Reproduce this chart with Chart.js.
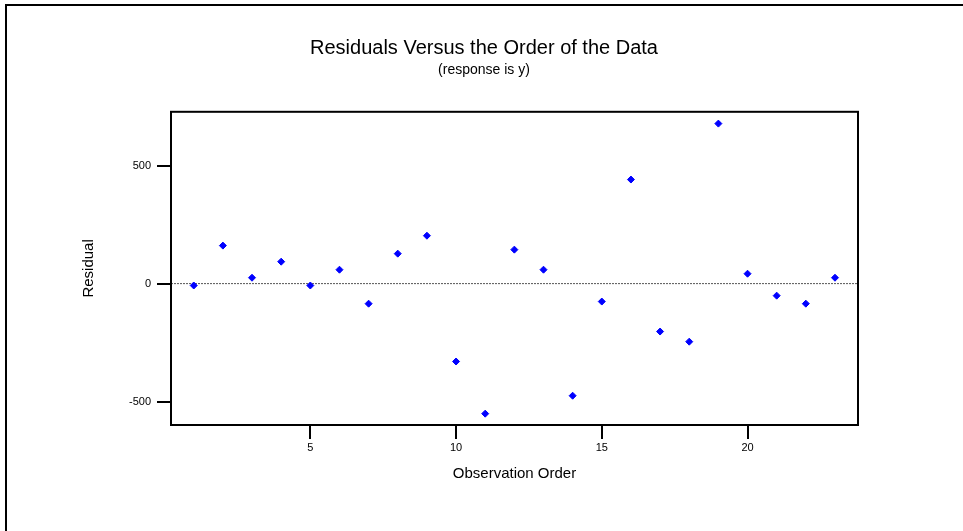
<!DOCTYPE html>
<html>
<head>
<meta charset="utf-8">
<script src="https://cdn.jsdelivr.net/npm/chart.js@4/dist/chart.umd.min.js"></script>
<style>
html, body { margin: 0; padding: 0; background: #ffffff; }
#wrap { width: 963px; height: 531px; position: relative; }
canvas { display: block; }
</style>
</head>
<body>
<div id="wrap"><canvas id="chart" width="963" height="531"></canvas></div>
<script>
// ---- data ----
const observationOrder = [1, 2, 3, 4, 5, 6, 7, 8, 9, 10, 11, 12, 13, 14, 15, 16, 17, 18, 19, 20, 21, 22, 23];
const residuals = [-8, 161, 25, 93, -8, 59, -85, 127, 203, -330, -551, 144, 59, -475, -76, 441, -203, -246, 678, 42, -51, -85, 25];
const xTickValues = [5, 10, 15, 20];
const yTickValues = [-500, 0, 500];
const referenceLevel = [0, 0];
const xRange = [0.22, 23.79];
const yRange = [-599, 728];
const titleText = 'Residuals Versus the Order of the Data';
const subtitleText = '(response is y)';
const xAxisTitle = 'Observation Order';
const yAxisTitle = 'Residual';

const FONT = "'Liberation Sans', Arial, sans-serif";

const scatterData = observationOrder.map((x, i) => ({ x: x, y: residuals[i] }));
const refLineData = xRange.map((x, i) => ({ x: x, y: referenceLevel[i] }));

const framePlugin = {
  id: 'frames',
  beforeDraw(chart) {
    const ctx = chart.ctx;
    ctx.save();
    ctx.fillStyle = '#ffffff';
    ctx.fillRect(0, 0, chart.width, chart.height);
    ctx.strokeStyle = '#000000';
    ctx.lineWidth = 2;
    ctx.beginPath();
    ctx.moveTo(6, chart.height);
    ctx.lineTo(6, 5);
    ctx.lineTo(chart.width, 5);
    ctx.stroke();
    ctx.restore();
  },
  afterDraw(chart) {
    const a = chart.chartArea;
    const ctx = chart.ctx;
    ctx.save();
    ctx.strokeStyle = '#000000';
    ctx.lineWidth = 2;
    ctx.strokeRect(a.left, a.top, a.right - a.left, a.bottom - a.top);
    ctx.restore();
  }
};

new Chart(document.getElementById('chart'), {
  type: 'scatter',
  data: {
    datasets: [
      {
        type: 'line',
        data: refLineData,
        borderColor: '#555555',
        borderWidth: 1,
        borderDash: [2, 1],
        pointRadius: 0,
        fill: false,
        order: 2
      },
      {
        data: scatterData,
        pointStyle: 'rectRot',
        pointRadius: 3.5,
        pointBorderWidth: 1,
        backgroundColor: '#0000ff',
        borderColor: '#0000ff',
        order: 1
      }
    ]
  },
  options: {
    responsive: false,
    devicePixelRatio: 1,
    animation: false,
    layout: { padding: { left: 76, right: 71, top: 0, bottom: 44 } },
    plugins: {
      legend: { display: false },
      tooltip: { enabled: false },
      title: {
        display: true,
        text: titleText,
        color: '#000000',
        font: { family: FONT, size: 20, weight: 'normal' },
        padding: { top: 36, bottom: 0 }
      },
      subtitle: {
        display: true,
        text: subtitleText,
        color: '#000000',
        font: { family: FONT, size: 14, weight: 'normal' },
        padding: { top: 2, bottom: 33 }
      }
    },
    scales: {
      x: {
        type: 'linear',
        min: xRange[0],
        max: xRange[1],
        afterBuildTicks: (scale) => { scale.ticks = xTickValues.map(v => ({ value: v })); },
        afterFit: (scale) => { scale.height = 62; },
        ticks: {
          color: '#000000',
          font: { family: FONT, size: 11 },
          padding: 2,
          maxRotation: 0,
          autoSkip: false
        },
        grid: { display: true, drawOnChartArea: false, drawTicks: true, tickLength: 14, lineWidth: 2, color: '#000000' },
        border: { display: true, width: 2, color: '#000000' },
        title: {
          display: true,
          text: xAxisTitle,
          color: '#000000',
          font: { family: FONT, size: 15 },
          padding: { top: 4, bottom: 4 }
        }
      },
      y: {
        type: 'linear',
        min: yRange[0],
        max: yRange[1],
        afterBuildTicks: (scale) => { scale.ticks = yTickValues.map(v => ({ value: v })); },
        afterFit: (scale) => { scale.width = 95; },
        ticks: {
          color: '#000000',
          font: { family: FONT, size: 11 },
          padding: 6,
          autoSkip: false
        },
        grid: { display: true, drawOnChartArea: false, drawTicks: true, tickLength: 14, lineWidth: 2, color: '#000000' },
        border: { display: true, width: 2, color: '#000000' },
        title: {
          display: true,
          text: yAxisTitle,
          color: '#000000',
          font: { family: FONT, size: 15 },
          padding: { top: 4, bottom: 4 }
        }
      },
      spacer: {
        type: 'linear',
        position: 'right',
        display: true,
        afterFit: (scale) => { scale.width = 34; },
        ticks: { display: false },
        grid: { display: false },
        border: { display: false },
        title: { display: false }
      }
    }
  },
  plugins: [framePlugin]
});
</script>
</body>
</html>
